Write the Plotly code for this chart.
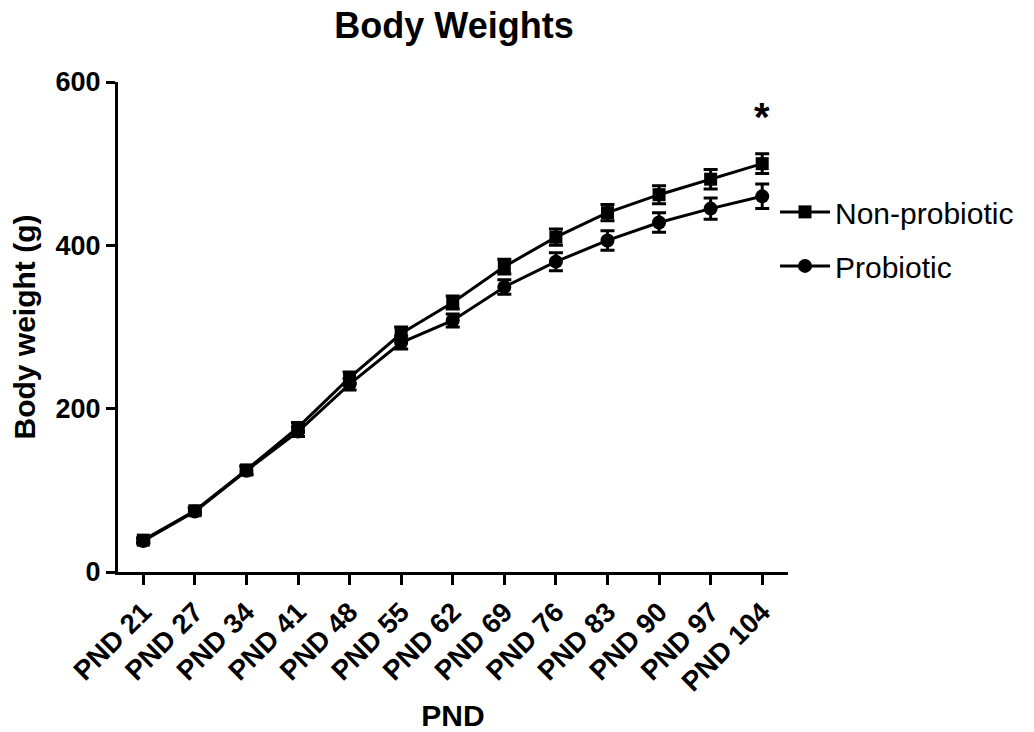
import plotly.graph_objects as go

categories = ["PND 21", "PND 27", "PND 34", "PND 41", "PND 48", "PND 55", "PND 62",
              "PND 69", "PND 76", "PND 83", "PND 90", "PND 97", "PND 104"]
non_probiotic = [39, 75, 125, 177, 238, 292, 330, 374, 410, 440, 462, 481, 500]
non_probiotic_err = [3, 4, 5, 6, 7, 8, 8, 9, 10, 10, 11, 12, 12]
probiotic = [38, 74, 124, 172, 230, 281, 308, 349, 380, 406, 428, 445, 460]
probiotic_err = [3, 4, 5, 6, 7, 8, 8, 9, 11, 12, 12, 13, 15]

x = list(range(len(categories)))
FONT = "Liberation Sans, Arial, sans-serif"

fig = go.Figure()
fig.add_trace(go.Scatter(
    x=x, y=non_probiotic, name="Non-probiotic", mode="lines+markers",
    legendgroup="a",
    line=dict(color="black", width=3),
    marker=dict(symbol="square", size=13, color="black"),
    error_y=dict(type="data", array=non_probiotic_err, visible=True,
                 color="black", thickness=3, width=7),
))
fig.add_trace(go.Scatter(
    x=x, y=probiotic, name="Probiotic", mode="lines+markers",
    legendgroup="b",
    line=dict(color="black", width=3),
    marker=dict(symbol="circle", size=14, color="black"),
    error_y=dict(type="data", array=probiotic_err, visible=True,
                 color="black", thickness=3, width=7),
))

fig.add_annotation(x=12, y=528, text="<b>*</b>", showarrow=False,
                   yanchor="bottom", font=dict(size=40, color="black", family=FONT))

fig.update_layout(
    width=1034, height=732,
    paper_bgcolor="white", plot_bgcolor="white",
    margin=dict(l=118, r=246, t=82, b=160),
    title=dict(text="<b>Body Weights</b>", x=454/1034, xanchor="center",
               y=1 - 25/732, yanchor="middle",
               font=dict(size=36, color="black", family=FONT)),
    font=dict(family=FONT, color="black"),
    showlegend=True,
    legend=dict(x=(775 - 118) / 670, y=0.788, xanchor="left", yanchor="top",
                font=dict(size=30, color="black", family=FONT),
                tracegroupgap=12, itemwidth=50, bgcolor="rgba(0,0,0,0)"),
    xaxis=dict(
        range=[-0.49, 12.5], tickmode="array", tickvals=x,
        ticktext=categories, automargin=False,
        tickangle=-45, ticks="outside", ticklen=10, tickwidth=3, tickcolor="black",
        showline=True, linecolor="black", linewidth=3, showgrid=False, zeroline=False,
        tickfont=dict(size=27.5, color="black", family=FONT, weight="bold"),
        title=dict(text="<b>PND</b>", font=dict(size=30, color="black", family=FONT),
                   standoff=16),
    ),
    yaxis=dict(
        range=[0, 600], tickvals=[0, 200, 400, 600], automargin=False,
        ticks="outside", ticklen=9, tickwidth=3, tickcolor="black",
        showline=True, linecolor="black", linewidth=3, showgrid=False, zeroline=False,
        tickfont=dict(size=27, color="black", family=FONT, weight="bold"),
        title=dict(text="<b>Body weight (g)</b>", font=dict(size=30, color="black", family=FONT),
                   standoff=12),
    ),
)

fig.write_html("out.html")
